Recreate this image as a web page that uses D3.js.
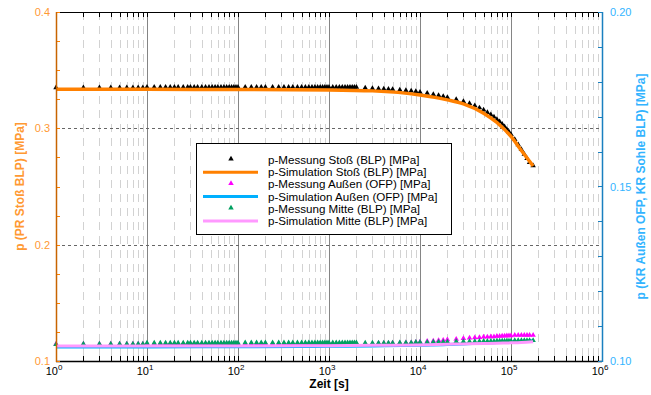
<!DOCTYPE html>
<html><head><meta charset="utf-8">
<script src="https://cdn.jsdelivr.net/npm/d3@7"></script>
<style>body{margin:0;background:#fff}svg{display:block;font-family:"Liberation Sans",Arial,sans-serif}</style>
</head><body><svg id="c" width="651" height="395"></svg>
<script>
// ---- data ----
const tMess = [1,2,3,4,5,6,7,8,9,
 10,12,14,16,18,20,22,25,28,30,33,36,40,44,48,52,56,60,65,70,75,80,85,90,95,100,
 120,140,160,180,200,240,280,320,360,400,450,500,550,600,650,700,750,800,850,900,950,1000,
 1100,1200,1300,1400,1500,1600,1700,1800,1900,2000,
 2500,3000,3500,4000,4500,5000,6000,7000,8000,9000,10000,
 12000,14000,16000,18000,20000,
 25000,30000,35000,40000,45000,50000,
 55000,60000,65000,70000,75000,80000,85000,90000,95000,100000,
 110000,120000,130000,140000,150000,160000,175000];
const mStoss = [0.3340,0.3340,0.3340,0.3340,0.3340,0.3340,0.3340,0.3340,0.3340,
 0.3345,0.3345,0.3345,0.3345,0.3345,0.3345,0.3345,0.3345,0.3345,0.3345,0.3345,0.3345,0.3345,0.3345,0.3345,0.3345,0.3345,0.3345,0.3345,0.3345,0.3345,0.3345,0.3345,0.3345,0.3345,0.3345,
 0.3345,0.3345,0.3345,0.3345,0.3345,0.3345,0.3345,0.3345,0.3345,0.3345,0.3345,0.3345,0.3345,0.3345,0.3345,0.3345,0.3345,0.3345,0.3345,0.3345,0.3345,0.3345,
 0.3345,0.3345,0.3345,0.3345,0.3345,0.3345,0.3345,0.3345,0.3345,0.3345,
 0.3338,0.3335,0.3333,0.3331,0.3329,0.3327,0.3322,0.3318,0.3313,0.3308,0.3303,
 0.3293,0.3284,0.3275,0.3266,0.3258,
 0.3240,0.3222,0.3205,0.3187,0.3168,0.3149,
 0.3129,0.3109,0.3089,0.3069,0.3048,0.3027,0.3005,0.2983,0.2961,0.2940,
 0.2896,0.2852,0.2810,0.2770,0.2732,0.2698,0.2670];
const mAussen = [0.1046,0.1046,0.1046,0.1046,0.1046,0.1046,0.1046,0.1046,0.1046,
 0.1047,0.1047,0.1047,0.1047,0.1047,0.1047,0.1047,0.1047,0.1047,0.1047,0.1047,0.1047,0.1047,0.1047,0.1047,0.1047,0.1047,0.1047,0.1047,0.1047,0.1047,0.1047,0.1047,0.1047,0.1047,0.1047,
 0.1047,0.1047,0.1047,0.1047,0.1047,0.1047,0.1047,0.1047,0.1047,0.1047,0.1047,0.1047,0.1047,0.1047,0.1047,0.1047,0.1047,0.1047,0.1047,0.1047,0.1047,0.1047,
 0.1047,0.1047,0.1047,0.1047,0.1047,0.1047,0.1047,0.1047,0.1047,0.1047,
 0.1047,0.1047,0.1048,0.1048,0.1048,0.1049,0.1049,0.1050,0.1050,0.1051,0.1052,
 0.1054,0.1055,0.1056,0.1057,0.1058,
 0.1060,0.1062,0.1063,0.1064,0.1065,0.1066,
 0.1066,0.1067,0.1067,0.1068,0.1068,0.1069,0.1069,0.1070,0.1070,0.1070,
 0.1071,0.1071,0.1071,0.1071,0.1071,0.1071,0.1071];
const mMitte = [0.1045,0.1046,0.1046,0.1046,0.1046,0.1046,0.1046,0.1046,0.1046,
 0.1049,0.1049,0.1049,0.1049,0.1049,0.1049,0.1049,0.1049,0.1049,0.1049,0.1049,0.1049,0.1049,0.1049,0.1049,0.1049,0.1049,0.1049,0.1049,0.1049,0.1049,0.1049,0.1049,0.1049,0.1049,0.1049,
 0.1050,0.1050,0.1050,0.1050,0.1050,0.1050,0.1050,0.1050,0.1050,0.1050,0.1050,0.1050,0.1050,0.1050,0.1050,0.1050,0.1050,0.1050,0.1050,0.1050,0.1050,0.1050,
 0.1050,0.1050,0.1050,0.1050,0.1050,0.1050,0.1050,0.1050,0.1050,0.1050,
 0.1049,0.1049,0.1049,0.1049,0.1049,0.1049,0.1050,0.1050,0.1050,0.1051,0.1051,
 0.1051,0.1052,0.1052,0.1052,0.1052,
 0.1053,0.1053,0.1053,0.1053,0.1054,0.1054,
 0.1054,0.1054,0.1054,0.1055,0.1055,0.1055,0.1055,0.1055,0.1055,0.1055,
 0.1056,0.1056,0.1056,0.1056,0.1056,0.1056,0.1056];
const tSim = [1,10,100,1000,3000,10000,20000,30000,50000,70000,100000,130000,175000];
const sStoss  = [0.3335,0.3335,0.3334,0.3330,0.3322,0.3287,0.3245,0.3210,0.3130,0.3050,0.2930,0.2810,0.2676];
const sAussen = [0.1040,0.1040,0.1041,0.1042,0.1043,0.1045,0.1047,0.1049,0.1051,0.1053,0.1055,0.1056,0.1058];
const sMitte  = [0.1043,0.1043,0.1043,0.1044,0.1045,0.1046,0.1048,0.1049,0.1050,0.1051,0.1052,0.1053,0.1055];
const xTicks = [1,10,100,1000,10000,100000,1000000];
const yLTicks = [0.1,0.2,0.3,0.4];
const yRTicks = [0.10,0.15,0.20];
const legendItems = [
 {label:"p-Messung Stoß (BLP) [MPa]", type:"m", color:"#000000"},
 {label:"p-Simulation Stoß (BLP) [MPa]", type:"l", color:"#ff8000"},
 {label:"p-Messung Außen (OFP) [MPa]", type:"m", color:"#ff00ff"},
 {label:"p-Simulation Außen (OFP) [MPa]", type:"l", color:"#00b0ff"},
 {label:"p-Messung Mitte (BLP) [MPa]", type:"m", color:"#00a060"},
 {label:"p-Simulation Mitte (BLP) [MPa]", type:"l", color:"#ff99ff"}];

// ---- drawing ----
const svg = d3.select("#c");
const L=56, R=602, T=12, B=361;
const x = d3.scaleLog().domain([1,1e6]).range([L,R]);
const yL = d3.scaleLinear().domain([0.1,0.4]).range([B,T]);
const yR = d3.scaleLinear().domain([0.1,0.2]).range([B,T]);

const minorX = [];
for (let e=0;e<6;e++) for (let k=2;k<10;k++) minorX.push(k*Math.pow(10,e));

const g = svg.append("g");
g.selectAll(".mg").data(minorX).join("line")
 .attr("x1",d=>Math.round(x(d))+0.5).attr("x2",d=>Math.round(x(d))+0.5).attr("y1",T).attr("y2",B)
 .attr("stroke","#d2d2d2").attr("stroke-dasharray","8,6");
g.selectAll(".Mg").data(xTicks.slice(1,-1)).join("line")
 .attr("x1",d=>Math.round(x(d))+0.5).attr("x2",d=>Math.round(x(d))+0.5).attr("y1",T).attr("y2",B)
 .attr("stroke","#858585");
g.selectAll(".hg").data([0.2,0.3]).join("line")
 .attr("x1",L).attr("x2",R).attr("y1",d=>Math.round(yL(d))+0.5).attr("y2",d=>Math.round(yL(d))+0.5)
 .attr("stroke","#666").attr("stroke-dasharray","3,3");

const tri = d3.symbol().type(d3.symbolTriangle).size(13);
function markers(vals, ys, color){
  g.append("g").selectAll("path").data(tMess.map((t,i)=>[t,vals[i]])).join("path")
   .attr("d",tri).attr("fill",color)
   .attr("transform",d=>`translate(${x(d[0])},${ys(d[1])-1})`);
}
function line(vals, ys, color, w){
  g.append("path").datum(tSim.map((t,i)=>[t,vals[i]]))
   .attr("fill","none").attr("stroke",color).attr("stroke-width",w)
   .attr("d",d3.line().x(d=>x(d[0])).y(d=>ys(d[1])).curve(d3.curveMonotoneX));
}
markers(mStoss, yL, "#000");
line(sStoss, yL, "#ff8000", 3.5);
markers(mAussen, yR, "#ff00ff");
line(sAussen, yR, "#00b0ff", 3);
markers(mMitte, yR, "#00a060");
line(sMitte, yR, "#ff99ff", 3);

const ax = svg.append("g");
ax.append("line").attr("x1",L).attr("x2",R).attr("y1",B+0.5).attr("y2",B+0.5).attr("stroke","#000").attr("stroke-width",1.5);
ax.append("line").attr("x1",L).attr("x2",R).attr("y1",T+0.5).attr("y2",T+0.5).attr("stroke","#000").attr("stroke-width",1);
const allX = xTicks.concat(minorX);
ax.selectAll(".tb").data(allX).join("line")
 .attr("x1",d=>Math.round(x(d))+0.5).attr("x2",d=>Math.round(x(d))+0.5).attr("y1",B).attr("y2",B-5).attr("stroke","#000");
ax.selectAll(".tt").data(allX).join("line")
 .attr("x1",d=>Math.round(x(d))+0.5).attr("x2",d=>Math.round(x(d))+0.5).attr("y1",T).attr("y2",T+5).attr("stroke","#000");
const xl = ax.selectAll(".xl").data(xTicks).join("text")
 .attr("x",d=>x(d)-2).attr("y",375).attr("text-anchor","middle").attr("font-size",11).attr("fill","#000");
xl.append("tspan").text("10");
xl.append("tspan").attr("dy",-5).attr("font-size",8).text(d=>Math.round(Math.log10(d)));
ax.append("text").attr("x",329).attr("y",388).attr("text-anchor","middle").attr("font-size",12).attr("font-weight","bold").text("Zeit [s]");

const yLminor = d3.range(0,13).map(i=>0.1+i*0.025);
ax.selectAll(".tl").data(yLminor).join("line")
 .attr("x1",L).attr("x2",L+4).attr("y1",d=>Math.round(yL(d))+0.5).attr("y2",d=>Math.round(yL(d))+0.5).attr("stroke","#ff8000");
ax.append("line").attr("x1",L+0.5).attr("x2",L+0.5).attr("y1",T).attr("y2",B+1).attr("stroke","#c86400").attr("stroke-width",1.5);
ax.selectAll(".yl").data(yLTicks).join("text")
 .attr("x",L-6).attr("y",d=>yL(d)+4).attr("text-anchor","end").attr("font-size",11).attr("fill","#ff9933")
 .text(d=>d3.format(".1f")(d));
ax.append("text").attr("transform",`translate(24,${(T+B)/2}) rotate(-90)`).attr("text-anchor","middle")
 .attr("font-size",12).attr("font-weight","bold").attr("fill","#ff9933").text("p (PR Stoß BLP) [MPa]");

const yRminor = d3.range(0,11).map(i=>0.1+i*0.01);
ax.selectAll(".tr").data(yRminor).join("line")
 .attr("x1",R-4).attr("x2",R).attr("y1",d=>Math.round(yR(d))+0.5).attr("y2",d=>Math.round(yR(d))+0.5).attr("stroke","#1a80c0");
ax.append("line").attr("x1",R+0.5).attr("x2",R+0.5).attr("y1",T).attr("y2",B+1).attr("stroke","#1a80c0").attr("stroke-width",1.5);
ax.selectAll(".yr").data(yRTicks).join("text")
 .attr("x",R+8).attr("y",d=>yR(d)+4).attr("text-anchor","start").attr("font-size",11).attr("fill","#33b4ff")
 .text(d=>d3.format(".2f")(d));
ax.append("text").attr("transform",`translate(645,${(T+B)/2}) rotate(-90)`).attr("text-anchor","middle")
 .attr("font-size",12).attr("font-weight","bold").attr("fill","#33b4ff").text("p (KR Außen OFP, KR Sohle BLP) [MPa]");

const lg = svg.append("g");
lg.append("rect").attr("x",196.5).attr("y",143.5).attr("width",255).attr("height",91).attr("fill","#fff").attr("stroke","#000");
legendItems.forEach((it,i)=>{
  const yy = 160 + i*12.2;
  if (it.type==="l") lg.append("line").attr("x1",203).attr("x2",258).attr("y1",yy).attr("y2",yy).attr("stroke",it.color).attr("stroke-width",3);
  else lg.append("path").attr("d",tri).attr("fill",it.color).attr("transform",`translate(231,${yy-1})`);
  lg.append("text").attr("x",268).attr("y",yy+4).attr("font-size",11.6).attr("fill","#000").text(it.label);
});
</script></body></html>
